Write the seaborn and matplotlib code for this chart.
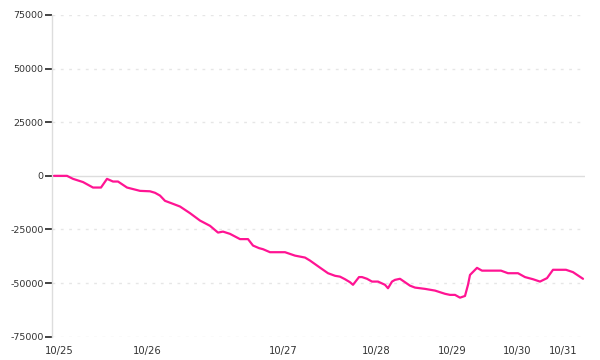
import matplotlib
matplotlib.use("Agg")
import matplotlib.pyplot as plt
import seaborn as sns
import pandas as pd

# sample index along the x axis (irregular trading samples)
idx = [0, 13, 19, 29, 39, 47, 53, 59, 64, 73, 86, 96, 101, 106, 111, 119, 126,
       136, 146, 156, 164, 169, 176, 186, 194, 199, 205, 209, 216, 231, 241, 251,
       256, 266, 274, 281, 286, 291, 296, 299, 305, 308, 313, 318, 324, 331, 334,
       338, 341, 346, 351, 356, 361, 371, 381, 391, 396, 401, 406, 411, 414, 416,
       423, 428, 447, 454, 464, 471, 479, 486, 493, 499, 512, 519, 529]
values = [0, 0, -1400, -2900, -5450, -5450, -1400, -2650, -2650, -5450, -7000,
          -7200, -7900, -9200, -11650, -13050, -14300, -17400, -20850, -23300,
          -26450, -26000, -27050, -29500, -29500, -32500, -33700, -34200, -35600,
          -35600, -37200, -38100, -39500, -42800, -45400, -46600, -47000, -48200,
          -49600, -50800, -47200, -47200, -48000, -49300, -49300, -50800, -52400,
          -49300, -48500, -48000, -49600, -51200, -52100, -52700, -53500, -55000,
          -55500, -55500, -56800, -56000, -50800, -46200, -42900, -44200, -44200,
          -45400, -45400, -47200, -48200, -49300, -47700, -43800, -43800, -44900,
          -48000]

tick_pos = [5, 93, 229, 322, 398, 463, 509]
tick_labels = ["10/25", "10/26", "10/27", "10/28", "10/29", "10/30", "10/31"]
y_ticks = [-75000, -50000, -25000, 0, 25000, 50000, 75000]

sns.set_theme(style="white")
plt.rcParams["font.family"] = ["DejaVu Sans"]
plt.rcParams["axes.unicode_minus"] = False

df = pd.DataFrame({"idx": idx, "value": values})

fig = plt.figure(figsize=(6, 3.6), dpi=100)
ax = fig.add_axes([52 / 600, 1 - 336.7 / 360, 533 / 600, (336.7 - 15) / 360])

for yv in y_ticks:
    if yv == 0:
        ax.axhline(yv, color="#dddddd", lw=1.0, zorder=1)
    else:
        ax.axhline(yv, color="#e6e6e6", lw=1.0, ls=(0, (2, 4)), zorder=1)

sns.lineplot(data=df, x="idx", y="value", ax=ax, color="#ff1493", lw=1.6, zorder=3)

ax.set_xlim(-2, 531)
ax.set_ylim(-75000, 75000)
ax.set_yticks(y_ticks)
ax.set_yticklabels([str(v) for v in y_ticks])
ax.set_xticks(tick_pos)
ax.set_xticklabels(tick_labels)
ax.set_xlabel("")
ax.set_ylabel("")

for s in ["top", "right", "bottom"]:
    ax.spines[s].set_visible(False)
ax.spines["left"].set_color("#dddddd")
ax.spines["left"].set_linewidth(1.0)

ax.tick_params(axis="y", which="both", left=True, length=5, width=1.2,
               color="#222222", pad=1, labelsize=6.8, labelcolor="#333333")
ax.tick_params(axis="x", which="both", bottom=False, length=0, pad=7,
               labelsize=7.2, labelcolor="#333333")

fig.savefig("out.png", dpi=100, facecolor="white")
